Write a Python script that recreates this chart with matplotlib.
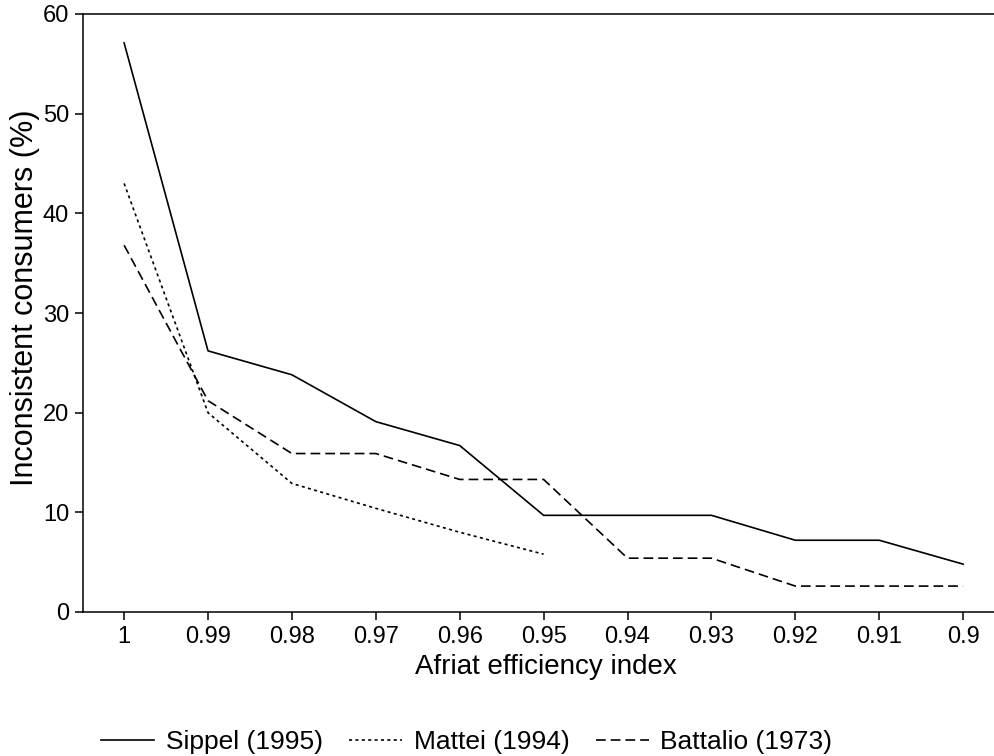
import numpy as np
import matplotlib
matplotlib.use("Agg")
import matplotlib.pyplot as plt

### Data
efficiency = ["1", "0.99", "0.98", "0.97", "0.96", "0.95", "0.94", "0.93", "0.92", "0.91", "0.9"]
sippel = [57.1, 26.2, 23.8, 19.1, 16.7, 9.7, 9.7, 9.7, 7.2, 7.2, 4.8]
mattei = [43.0, 20.0, 12.9, 10.4, 8.0, 5.8]
battalio = [36.8, 21.2, 15.9, 15.9, 13.3, 13.3, 5.4, 5.4, 2.6, 2.6, 2.6]
yticks = [0, 10, 20, 30, 40, 50, 60]

plt.rcParams["font.family"] = ["Liberation Sans", "DejaVu Sans"]
plt.rcParams["lines.scale_dashes"] = False

fig = plt.figure(figsize=(9.95, 7.56), dpi=100)
ax = fig.add_axes([83 / 995, 1 - 612 / 756, 1 - 83 / 995, (612 - 14) / 756])

x = np.arange(len(efficiency))
lw = 1.2
ax.plot(x, sippel, color="black", lw=lw, label="Sippel (1995)")
ax.plot(x[:len(mattei)], mattei, color="black", lw=lw, dashes=(2.2, 2.4), label="Mattei (1994)")
ax.plot(x, battalio, color="black", lw=lw, dashes=(7, 3.6), label="Battalio (1973)")

ax.set_xlim(-0.49, 10.38)
ax.set_ylim(0, 60)
ax.set_xticks(x)
ax.set_xticklabels(efficiency)
ax.set_yticks(yticks)
ax.tick_params(axis="both", direction="out", length=6, width=1.1, labelsize=17, pad=4)
ax.spines["right"].set_visible(False)
for s in ["left", "top", "bottom"]:
    ax.spines[s].set_linewidth(1.1)

ax.set_xlabel("Afriat efficiency index", fontsize=20)
ax.set_ylabel("Inconsistent consumers (%)", fontsize=22)
ax.xaxis.set_label_coords((546 - 83) / 912, (612 - 667) / 598)
ax.yaxis.set_label_coords((25 - 83) / 912, (612 - 298) / 598)
ax.xaxis.label.set_va("center")
ax.yaxis.label.set_va("center")

fig.legend(loc="center", bbox_to_anchor=(0.469, 1 - 742 / 756), ncol=3, frameon=False,
           fontsize=19, handlelength=2.0, handletextpad=0.45, columnspacing=1.0)

fig.savefig("out.png", dpi=100)
